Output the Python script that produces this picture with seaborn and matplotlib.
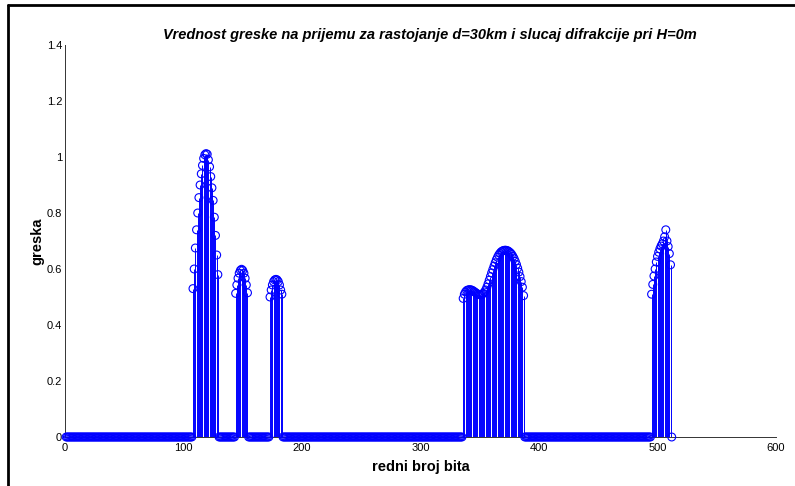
import numpy as np
import pandas as pd
import matplotlib
matplotlib.use("Agg")
import matplotlib.pyplot as plt
import seaborn as sns
from matplotlib.lines import Line2D

# ---- data ----
n_bits = 512
burst1_start = 108
burst1 = [0.53, 0.60, 0.675, 0.74, 0.80, 0.855, 0.90, 0.94, 0.97, 0.995, 1.008,
          1.012, 1.01, 0.99, 0.965, 0.93, 0.89, 0.845, 0.785, 0.72, 0.65, 0.58]
burst2_start = 144
burst2 = [0.513, 0.543, 0.567, 0.585, 0.595, 0.599, 0.595, 0.585, 0.567, 0.543, 0.515]
burst3_start = 173
burst3 = [0.50, 0.525, 0.543, 0.555, 0.561, 0.563, 0.561, 0.555, 0.543, 0.525, 0.51]
burst4_start = 336
burst4 = [0.495, 0.51, 0.518, 0.523, 0.525, 0.526, 0.526, 0.525, 0.523, 0.52,
          0.517, 0.514, 0.511, 0.509, 0.508, 0.508, 0.51, 0.513, 0.518, 0.525,
          0.535, 0.547, 0.56, 0.573, 0.586, 0.598, 0.61, 0.622, 0.633, 0.642,
          0.65, 0.656, 0.661, 0.664, 0.666, 0.667, 0.667, 0.666, 0.664, 0.661,
          0.657, 0.652, 0.645, 0.637, 0.627, 0.616, 0.603, 0.589, 0.573, 0.555,
          0.535, 0.505]
burst5_start = 495
burst5 = [0.51, 0.545, 0.575, 0.60, 0.625, 0.645, 0.66, 0.672, 0.682, 0.69,
          0.70, 0.715, 0.74, 0.70, 0.68, 0.655, 0.615]

title_text = "Vrednost greske na prijemu za rastojanje d=30km i slucaj difrakcije pri H=0m"
xlabel_text = "redni broj bita"
ylabel_text = "greska"
xticks = [0, 100, 200, 300, 400, 500, 600]
yticks = [0, 0.2, 0.4, 0.6, 0.8, 1.0, 1.2, 1.4]
ytick_labels = ["0", "0.2", "0.4", "0.6", "0.8", "1", "1.2", "1.4"]

bits = np.arange(1, n_bits + 1)
err = np.zeros(n_bits)
for start, vals in [(burst1_start, burst1), (burst2_start, burst2), (burst3_start, burst3),
                    (burst4_start, burst4), (burst5_start, burst5)]:
    err[start - 1:start - 1 + len(vals)] = vals
df = pd.DataFrame({"bit": bits, "greska": err})

# ---- plot ----
sns.set_style("white")
plt.rcParams['font.family'] = ['Liberation Sans', 'DejaVu Sans']
plt.rcParams['text.color'] = 'black'
plt.rcParams['axes.labelcolor'] = 'black'
plt.rcParams['xtick.color'] = 'black'
plt.rcParams['ytick.color'] = 'black'

fig = plt.figure(figsize=(7.95, 4.86), dpi=100)
ax = fig.add_axes([65 / 795, 49 / 486, (776 - 65) / 795, (437 - 45) / 486])

ax.vlines(df["bit"], 0, df["greska"], color="#0000ff", linewidth=0.7, zorder=2)
sns.scatterplot(data=df, x="bit", y="greska", ax=ax, marker="o", s=32,
                facecolors="none", edgecolor="#0000ff", linewidth=0.8, zorder=3,
                legend=False, clip_on=False)

ax.set_xlim(0, 600)
ax.set_ylim(0, 1.4)
ax.set_xticks(xticks)
ax.set_xticklabels([str(t) for t in xticks])
ax.set_yticks(yticks)
ax.set_yticklabels(ytick_labels)
ax.tick_params(direction="in", length=4, width=0.6, labelsize=8, pad=2, colors="black")
ax.tick_params(axis="x", pad=4)

for side in ["top", "right"]:
    ax.spines[side].set_visible(False)
for side in ["left", "bottom"]:
    ax.spines[side].set_color("#333333")
    ax.spines[side].set_linewidth(0.7)

ax.set_title(title_text, fontsize=10.5, fontweight="bold", fontstyle="italic", pad=4, x=0.513)
ax.set_xlabel(xlabel_text, fontsize=10.5, fontweight="bold", labelpad=5)
ax.set_ylabel(ylabel_text, fontsize=10.5, fontweight="bold", labelpad=2)

# figure frame lines (left and top)
fig.add_artist(Line2D([8 / 795, 8 / 795], [0, 1 - 5 / 486], transform=fig.transFigure,
                      color="black", linewidth=2))
fig.add_artist(Line2D([8 / 795, 1], [1 - 5 / 486, 1 - 5 / 486], transform=fig.transFigure,
                      color="black", linewidth=2))

fig.savefig("out.png", dpi=100)
